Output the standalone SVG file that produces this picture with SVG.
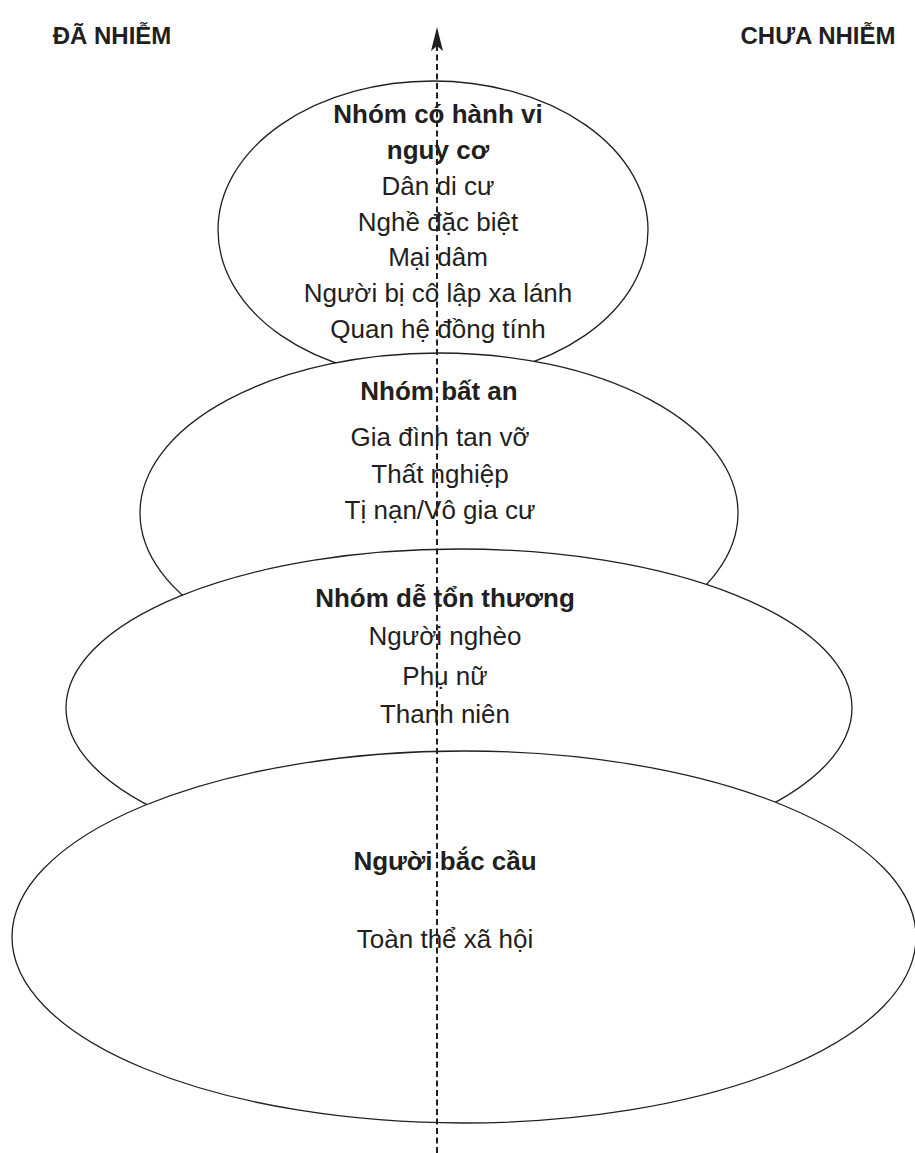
<svg xmlns="http://www.w3.org/2000/svg" width="915" height="1153" viewBox="0 0 915 1153">
<style>
.shape{fill:#fff;stroke:#231f20;stroke-width:1.3}
.t{font-family:"Liberation Sans",Arial,sans-serif;font-size:26px;fill:#231f20;text-anchor:middle}
.b{font-weight:bold}
.h{font-family:"Liberation Sans",Arial,sans-serif;font-size:24px;font-weight:bold;fill:#231f20;text-anchor:middle}
.axis{stroke:#231f20;stroke-width:2;stroke-dasharray:6 3.5;fill:none}
</style>
<defs>
<marker id="head" markerUnits="userSpaceOnUse" markerWidth="26" markerHeight="14" refX="5" refY="7" orient="auto" viewBox="0 0 26 14">
<path d="M24 7 L0 1 L5 7 L0 13 Z" fill="#231f20"/>
</marker>
</defs>
<g id="label-left"><text class="h" x="112" y="44">ĐÃ NHIỄM</text></g>
<g id="label-right"><text class="h" x="818" y="44">CHƯA NHIỄM</text></g>
<g id="node-risk">
<ellipse class="shape" cx="433" cy="230" rx="215" ry="149"/>
<text class="t b" x="438" y="123">Nhóm có hành vi</text>
<text class="t b" x="438" y="159">nguy cơ</text>
<text class="t" x="438" y="195">Dân di cư</text>
<text class="t" x="438" y="231">Nghề đặc biệt</text>
<text class="t" x="438" y="266">Mại dâm</text>
<text class="t" x="438" y="302">Người bị cô lập xa lánh</text>
<text class="t" x="438" y="338">Quan hệ đồng tính</text>
</g>
<g id="node-insecure">
<ellipse class="shape" cx="439" cy="513" rx="299" ry="160"/>
<text class="t b" x="439" y="400">Nhóm bất an</text>
<text class="t" x="440" y="446">Gia đình tan vỡ</text>
<text class="t" x="440" y="483">Thất nghiệp</text>
<text class="t" x="440" y="519">Tị nạn/Vô gia cư</text>
</g>
<g id="node-vulnerable">
<ellipse class="shape" cx="459" cy="708" rx="393" ry="159"/>
<text class="t b" x="445" y="607">Nhóm dễ tổn thương</text>
<text class="t" x="445" y="645">Người nghèo</text>
<text class="t" x="445" y="685">Phụ nữ</text>
<text class="t" x="445" y="723">Thanh niên</text>
</g>
<g id="node-bridge">
<ellipse class="shape" cx="464" cy="937" rx="452" ry="186"/>
<text class="t b" x="445" y="870">Người bắc cầu</text>
<text class="t" x="445" y="948">Toàn thể xã hội</text>
</g>
<g id="connectors">
<line class="axis" x1="437" y1="1153" x2="437" y2="46" marker-end="url(#head)"/>
</g>
</svg>
